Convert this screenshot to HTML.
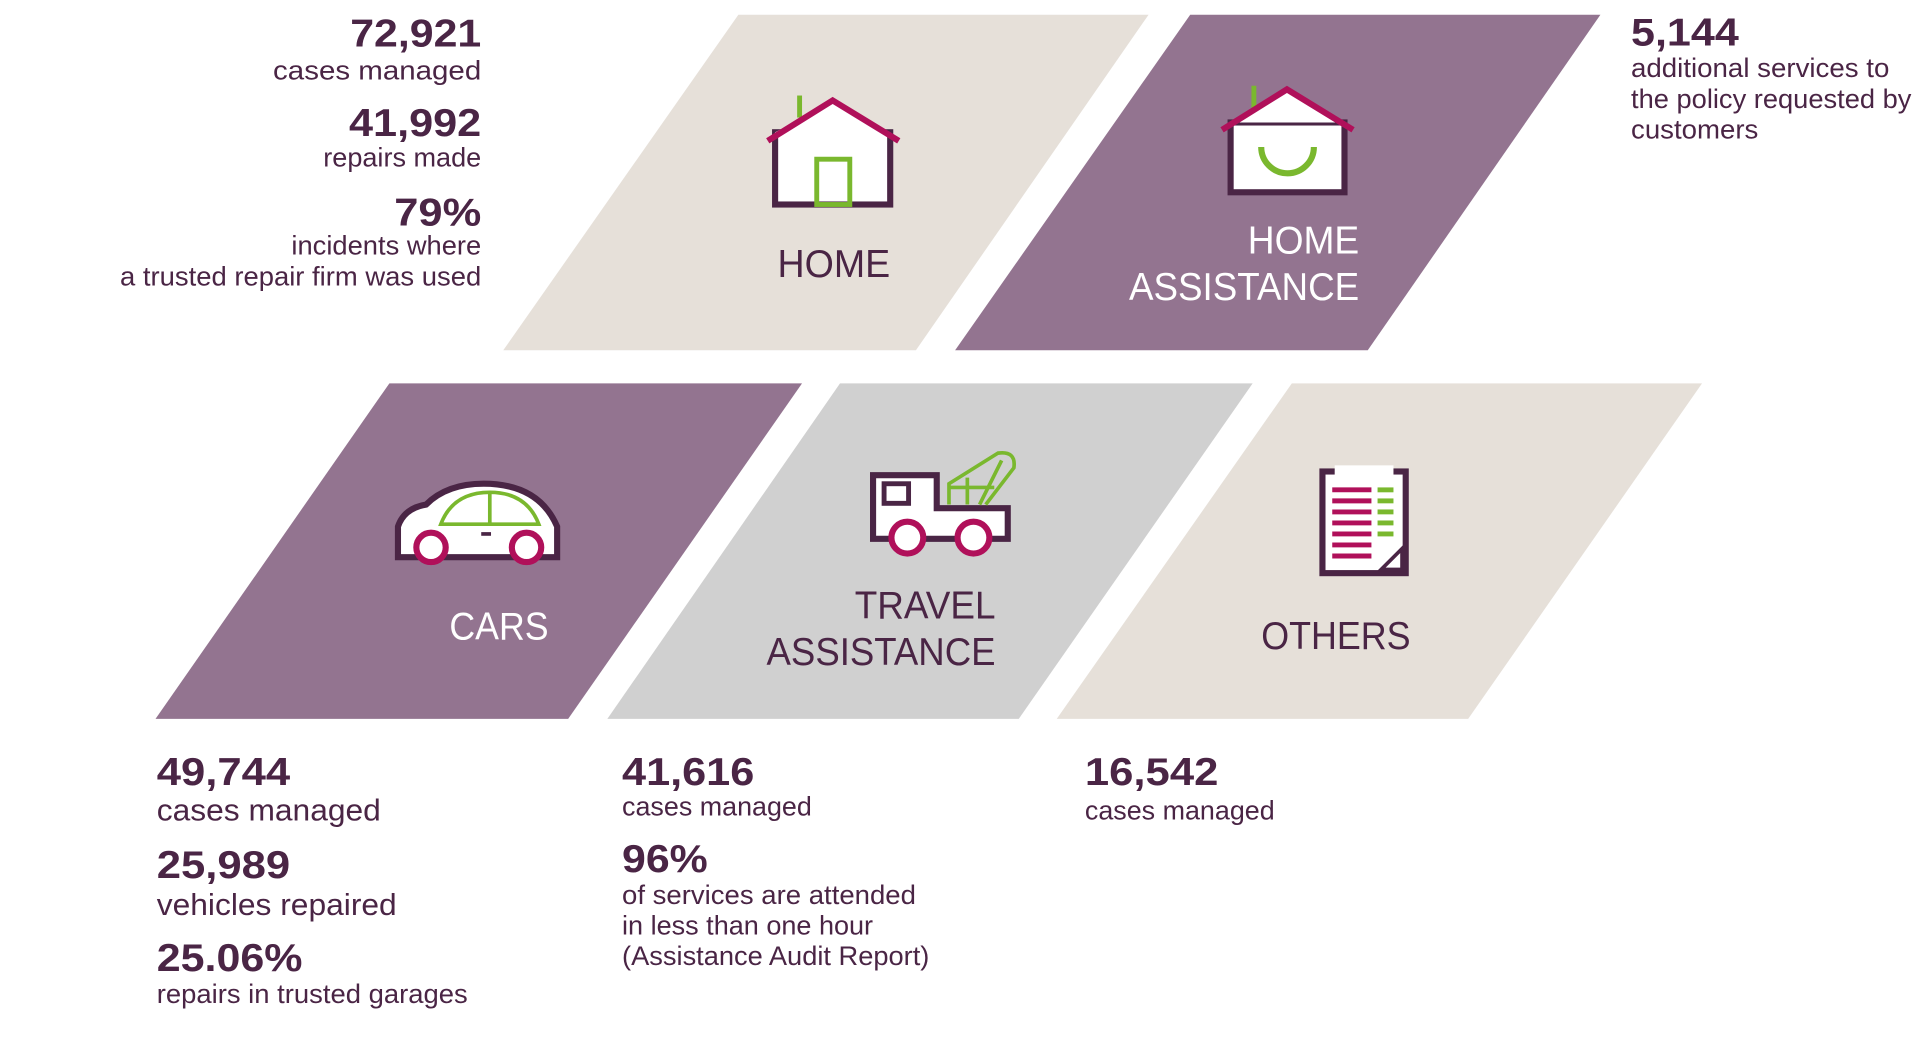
<!DOCTYPE html>
<html><head><meta charset="utf-8"><style>
html,body{margin:0;padding:0;background:#fff;}
svg{display:block;}
text{font-family:"Liberation Sans",sans-serif;fill:#4a2545;}
.b{font-weight:bold;font-size:32px;}
.s{font-size:22px;}
.m{font-size:25px;}
.l{font-size:32px;}
.w{fill:#fff;}
</style></head><body>
<svg width="1920" height="1063" viewBox="0 0 1568 868" preserveAspectRatio="none" xmlns="http://www.w3.org/2000/svg">
<polygon points="603,12 938,12 748,286 411,286" fill="#e6e0d9"/>
<polygon points="972,12 1307,12 1117,286 780,286" fill="#937490"/>
<polygon points="318,313 655,313 464,587 127,587" fill="#937490"/>
<polygon points="686,313 1023,313 832,587 496,587" fill="#d0d0d0"/>
<polygon points="1055,313 1390,313 1199,587 863,587" fill="#e6e0d9"/>

<!-- home icon -->
<line x1="653" y1="78" x2="653" y2="96" stroke="#7ab82e" stroke-width="4"/>
<rect x="633" y="108" width="94" height="59" fill="#fff" stroke="#4a2545" stroke-width="5"/>
<polygon points="633,108 680,84 727,108 727,112 633,112" fill="#fff"/>
<polyline points="627,115 680,82 734,115" fill="none" stroke="#b0105a" stroke-width="5"/>
<rect x="667" y="130" width="27" height="37" fill="none" stroke="#7ab82e" stroke-width="4"/>

<!-- home assistance icon -->
<line x1="1024" y1="70" x2="1024" y2="88" stroke="#7ab82e" stroke-width="4"/>
<rect x="1005" y="100" width="93" height="57" fill="#fff" stroke="#4a2545" stroke-width="5"/>
<polygon points="1005,100 1051,75 1098,100" fill="#fff"/>
<polyline points="998,106 1051,73 1105,106" fill="none" stroke="#b0105a" stroke-width="5"/>
<path d="M1030,120 A21,21 0 0 0 1073,120" fill="none" stroke="#7ab82e" stroke-width="5"/>

<!-- car -->
<path d="M325,455 L325,430 Q330,415 348,412 Q365,395 395,395 Q440,395 455,430 L455,455 Z" fill="#fff" stroke="#4a2545" stroke-width="5"/>
<path d="M360,428 Q370,402 400,402 Q430,402 440,428 Z" fill="none" stroke="#7ab82e" stroke-width="3"/>
<line x1="400" y1="402" x2="400" y2="428" stroke="#7ab82e" stroke-width="3"/>
<line x1="393" y1="436" x2="401" y2="436" stroke="#4a2545" stroke-width="3"/>
<circle cx="352" cy="447" r="12" fill="#fff" stroke="#b0105a" stroke-width="5"/>
<circle cx="430" cy="447" r="12" fill="#fff" stroke="#b0105a" stroke-width="5"/>

<!-- truck -->
<path d="M713,440 L713,388 L765,388 L765,415 L823,415 L823,440 Z" fill="#fff" stroke="#4a2545" stroke-width="5"/>
<rect x="722" y="395" width="20" height="16" fill="#fff" stroke="#4a2545" stroke-width="4"/>
<path d="M775,412 L775,395 L815,370 Q830,368 828,382 L805,412 M790,412 L790,390 M775,398 L812,398 M800,412 L818,376" fill="none" stroke="#7ab82e" stroke-width="3"/>
<circle cx="741" cy="439" r="13" fill="#fff" stroke="#b0105a" stroke-width="5"/>
<circle cx="795" cy="439" r="13" fill="#fff" stroke="#b0105a" stroke-width="5"/>

<!-- document -->
<rect x="1080" y="385" width="68" height="83" fill="#fff" stroke="#4a2545" stroke-width="5"/>
<rect x="1090" y="380" width="48" height="8" fill="#fff"/>
<g stroke="#b0105a" stroke-width="4">
<line x1="1088" y1="400" x2="1120" y2="400"/><line x1="1088" y1="409" x2="1120" y2="409"/><line x1="1088" y1="418" x2="1120" y2="418"/><line x1="1088" y1="427" x2="1120" y2="427"/><line x1="1088" y1="436" x2="1120" y2="436"/><line x1="1088" y1="445" x2="1120" y2="445"/><line x1="1088" y1="454" x2="1120" y2="454"/>
</g>
<g stroke="#7ab82e" stroke-width="4">
<line x1="1125" y1="400" x2="1138" y2="400"/><line x1="1125" y1="409" x2="1138" y2="409"/><line x1="1125" y1="418" x2="1138" y2="418"/><line x1="1125" y1="427" x2="1138" y2="427"/><line x1="1125" y1="436" x2="1138" y2="436"/>
</g>
<path d="M1128,465 L1145,448 L1145,465 Z" fill="#fff" stroke="#4a2545" stroke-width="3"/>

<!-- labels -->
<text x="635" y="226" class="l" textLength="92" lengthAdjust="spacingAndGlyphs">HOME</text>
<text class="l w" x="1019" y="207" textLength="91" lengthAdjust="spacingAndGlyphs">HOME</text>
<text class="l w" x="922" y="245" textLength="188" lengthAdjust="spacingAndGlyphs">ASSISTANCE</text>
<text class="l w" x="367" y="522" textLength="81" lengthAdjust="spacingAndGlyphs">CARS</text>
<text class="l" x="698" y="505" textLength="115" lengthAdjust="spacingAndGlyphs">TRAVEL</text>
<text class="l" x="626" y="543" textLength="187" lengthAdjust="spacingAndGlyphs">ASSISTANCE</text>
<text class="l" x="1030" y="530" textLength="122" lengthAdjust="spacingAndGlyphs">OTHERS</text>

<!-- top left -->
<text class="b" x="286" y="38" textLength="107" lengthAdjust="spacingAndGlyphs">72,921</text>
<text class="s" x="223" y="65" textLength="170" lengthAdjust="spacingAndGlyphs">cases managed</text>
<text class="b" x="285" y="111" textLength="108" lengthAdjust="spacingAndGlyphs">41,992</text>
<text class="s" x="264" y="136" textLength="129" lengthAdjust="spacingAndGlyphs">repairs made</text>
<text class="b" x="322" y="184" textLength="71" lengthAdjust="spacingAndGlyphs">79%</text>
<text class="s" x="238" y="208" textLength="155" lengthAdjust="spacingAndGlyphs">incidents where</text>
<text class="s" x="98" y="233" textLength="295" lengthAdjust="spacingAndGlyphs">a trusted repair firm was used</text>
<!-- top right -->
<text class="b" x="1332" y="37" textLength="88" lengthAdjust="spacingAndGlyphs">5,144</text>
<text class="s" x="1332" y="63" textLength="211" lengthAdjust="spacingAndGlyphs">additional services to</text>
<text class="s" x="1332" y="88" textLength="229" lengthAdjust="spacingAndGlyphs">the policy requested by</text>
<text class="s" x="1332" y="113" textLength="104" lengthAdjust="spacingAndGlyphs">customers</text>

<!-- bottom -->
<text class="b" x="128" y="641" textLength="109" lengthAdjust="spacingAndGlyphs">49,744</text>
<text class="m" x="128" y="670" textLength="183" lengthAdjust="spacingAndGlyphs">cases managed</text>
<text class="b" x="128" y="717" textLength="109" lengthAdjust="spacingAndGlyphs">25,989</text>
<text class="m" x="128" y="747" textLength="196" lengthAdjust="spacingAndGlyphs">vehicles repaired</text>
<text class="b" x="128" y="793" textLength="119" lengthAdjust="spacingAndGlyphs">25.06%</text>
<text class="s" x="128" y="819" textLength="254" lengthAdjust="spacingAndGlyphs">repairs in trusted garages</text>

<text class="b" x="508" y="641" textLength="108" lengthAdjust="spacingAndGlyphs">41,616</text>
<text class="s" x="508" y="666" textLength="155" lengthAdjust="spacingAndGlyphs">cases managed</text>
<text class="b" x="508" y="712" textLength="70" lengthAdjust="spacingAndGlyphs">96%</text>
<text class="s" x="508" y="738" textLength="240" lengthAdjust="spacingAndGlyphs">of services are attended</text>
<text class="s" x="508" y="763" textLength="205" lengthAdjust="spacingAndGlyphs">in less than one hour</text>
<text class="s" x="508" y="788" textLength="251" lengthAdjust="spacingAndGlyphs">(Assistance Audit Report)</text>

<text class="b" x="886" y="641" textLength="109" lengthAdjust="spacingAndGlyphs">16,542</text>
<text class="s" x="886" y="669" textLength="155" lengthAdjust="spacingAndGlyphs">cases managed</text>
</svg>
</body></html>
